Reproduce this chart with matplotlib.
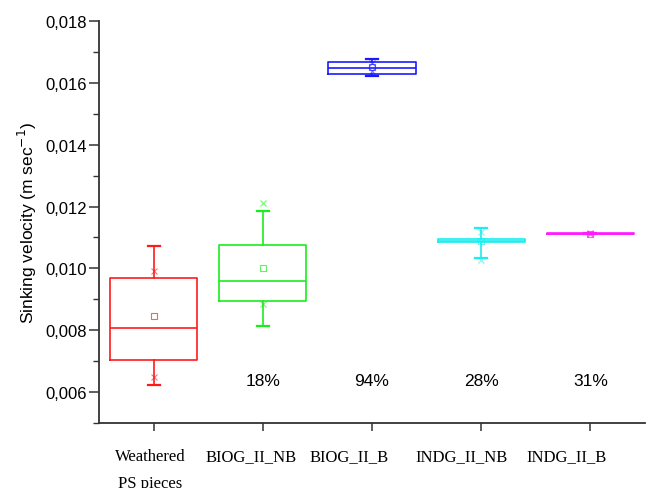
import matplotlib
matplotlib.use("Agg")
import matplotlib.pyplot as plt
import matplotlib.transforms as mtransforms
from matplotlib.ticker import MultipleLocator, FuncFormatter

# values (m/s)
groups = ["Weathered\nPS pieces", "BIOG_II_NB", "BIOG_II_B", "INDG_II_NB", "INDG_II_B"]
colors = ["#ff1a1a", "#1aee1a", "#1a1aff", "#1aeeee", "#ff1aff"]
whis_lo = [0.00623, 0.00814, 0.01622, 0.01034, 0.01110]
q1 = [0.00705, 0.00895, 0.01629, 0.01084, 0.01111]
median = [0.00807, 0.00960, 0.01647, 0.01089, 0.01112]
q3 = [0.00969, 0.01077, 0.01668, 0.01094, 0.01113]
whis_hi = [0.01071, 0.01187, 0.01676, 0.01130, 0.01114]
mean = [0.00847, 0.01000, 0.01651, 0.01088, 0.01112]
x_lo = [0.00648, 0.00885, 0.01637, 0.01027, 0.01111]
x_hi = [0.00990, 0.01210, 0.01665, 0.01118, 0.01113]
pct = ["", "18%", "94%", "28%", "31%"]
pct_y = 0.00639
label_shift_px = [-3, -12, -23, -20, -24]

plt.rcParams["font.family"] = ["Liberation Sans", "DejaVu Sans"]
fig = plt.figure(figsize=(6.54, 4.89), dpi=100)
ax = fig.add_axes([0.1514, 0.1329, 0.8348, 0.8221])

pos = list(range(1, len(groups) + 1))
for i, p in enumerate(pos):
    st = [dict(med=median[i], q1=q1[i], q3=q3[i], whislo=whis_lo[i], whishi=whis_hi[i],
               mean=mean[i], fliers=[x_lo[i], x_hi[i]])]
    c = colors[i]
    ax.bxp(st, positions=[p], widths=0.8, showmeans=True, showfliers=True,
           boxprops=dict(color=c, lw=1.2), medianprops=dict(color=c, lw=1.2),
           whiskerprops=dict(color=c, lw=1.2), capprops=dict(color=c, lw=1.6),
           capwidths=0.11,
           meanprops=dict(marker="s", markersize=4, markerfacecolor="none",
                          markeredgecolor=c, markeredgewidth=0.8, alpha=0.7),
           flierprops=dict(marker="x", markersize=4, markeredgecolor=c,
                           markeredgewidth=0.8, alpha=0.6))
    if pct[i]:
        ax.text(p, pct_y, pct[i], ha="center", va="center", fontsize=12.5)

ax.set_xlim(0.5, 5.5)
ax.set_ylim(0.005, 0.018)
ax.yaxis.set_major_locator(MultipleLocator(0.002))
ax.yaxis.set_minor_locator(MultipleLocator(0.001))
ax.yaxis.set_major_formatter(FuncFormatter(lambda v, _: f"{v:.3f}".replace(".", ",")))

ax.spines["top"].set_visible(False)
ax.spines["right"].set_visible(False)
for s in ("left", "bottom"):
    ax.spines[s].set_color("#333333")
    ax.spines[s].set_linewidth(1.3)
ax.tick_params(axis="y", which="major", length=7, width=1.1, color="#333333",
               labelsize=12, pad=2)
ax.tick_params(axis="y", which="minor", length=4, width=1.0, color="#333333")
ax.tick_params(axis="x", length=6, width=1.1, color="#333333", pad=12)

ax.set_xticks(pos)
ax.set_xticklabels(groups, family="Liberation Serif", fontsize=12, linespacing=1.9,
                   va="top")
for lab, dx in zip(ax.get_xticklabels(), label_shift_px):
    lab.set_transform(lab.get_transform() +
                      mtransforms.ScaledTranslation(dx / 100, 0, fig.dpi_scale_trans))

ax.set_ylabel("Sinking velocity (m sec$^{-1}$)", fontsize=12.5, labelpad=4)

fig.savefig("out.png", dpi=100)
